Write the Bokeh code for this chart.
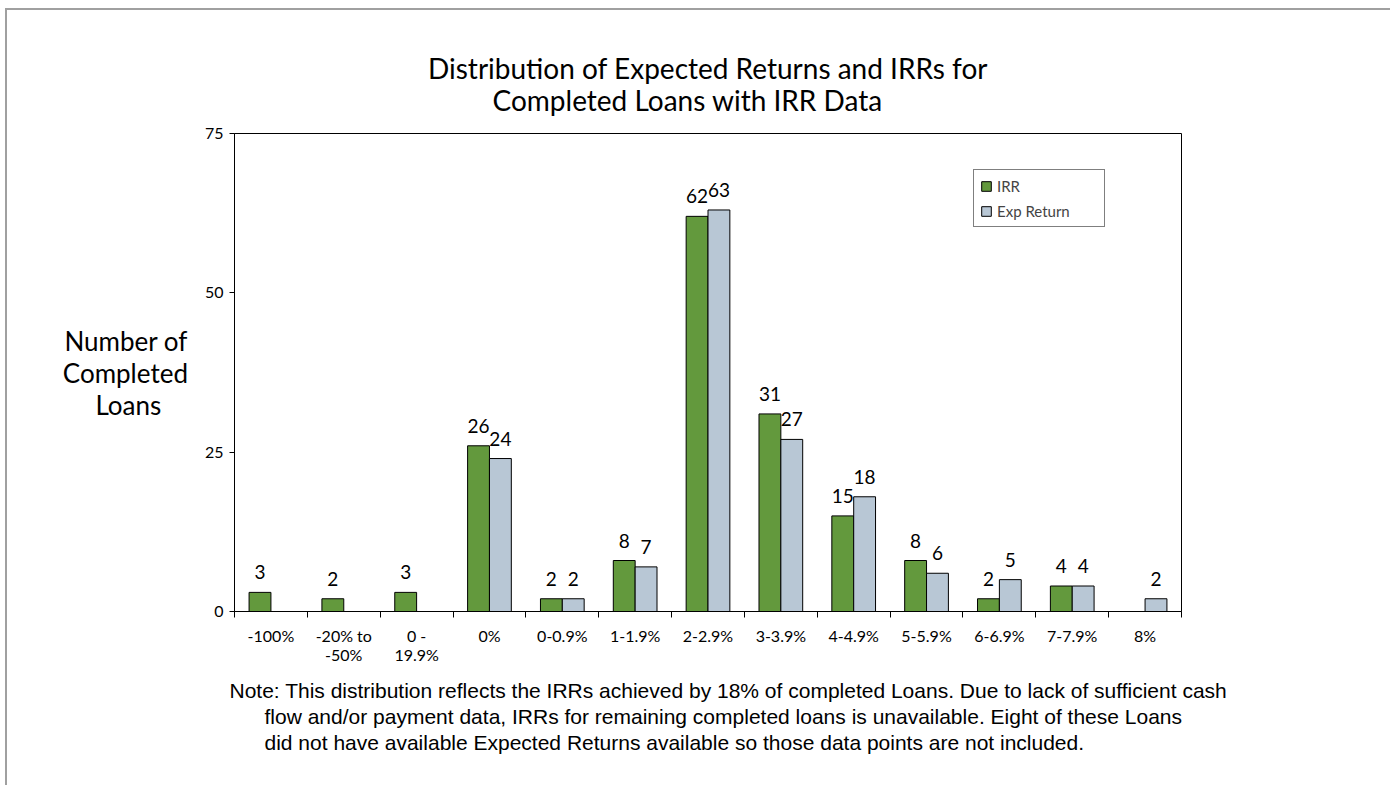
from bokeh.plotting import figure
from bokeh.models import ColumnDataSource, FixedTicker, Legend, LegendItem, Range1d, Title
from bokeh.core.properties import value
from bokeh.embed import file_html
from bokeh.resources import INLINE

# ---- data ----
categories = ["-100%", "-20% to\n-50%", "0 -\n19.9%", "0%", "0-0.9%", "1-1.9%",
              "2-2.9%", "3-3.9%", "4-4.9%", "5-5.9%", "6-6.9%", "7-7.9%", "8%"]
irr = [3, 2, 3, 26, 2, 8, 62, 31, 15, 8, 2, 4, None]
exp_return = [None, None, None, 24, 2, 7, 63, 27, 18, 6, 5, 4, 2]
y_ticks = [0, 25, 50, 75]
series_names = ["IRR", "Exp Return"]
title_lines = ["Distribution of Expected Returns and IRRs for", "Completed Loans with IRR Data"]
y_label_lines = ["Number of", "Completed", "Loans"]
note_lines = ["Note: This distribution reflects the IRRs achieved by 18% of completed Loans. Due to lack of sufficient cash",
              "flow and/or payment data, IRRs for remaining completed loans is unavailable. Eight of these Loans",
              "did not have available Expected Returns available so those data points are not included."]

NB = "\u00a0"
GREEN = "#63993d"
BLUE = "#b8c7d5"
FONT = "Lato"

W, H = 1385, 777
OX, OY = 7, 10                        # canvas origin on the page
FL, FT, FR, FB = 234 - OX, 133 - OY, 1181 - OX, 611 - OY  # frame box inside canvas

p = figure(width=W, height=H, output_backend="svg", toolbar_location=None, title=None,
           x_range=Range1d(0, len(categories)), y_range=Range1d(0, 75),
           min_border_left=FL, min_border_top=FT, min_border_right=W - FR,
           min_border_bottom=H - FB)
p.styles = {"border-top": "2px solid #a0a0a0", "border-left": "2px solid #a0a0a0",
            "margin-left": "5px", "margin-top": "8px"}

bw = 0.3


def make_source(vals, shift):
    xs, ys, ts = [], [], []
    for i, v in enumerate(vals):
        if v is None:
            continue
        xs.append(i + 0.5 + shift)
        ys.append(v)
        ts.append(str(v))
    return ColumnDataSource(dict(x=xs, top=ys, label=ts))


src_irr = make_source(irr, -bw / 2)
src_exp = make_source(exp_return, bw / 2)

r_irr = p.vbar(x="x", top="top", bottom=0, width=bw, source=src_irr,
               fill_color=GREEN, line_color="black", line_width=1)
r_exp = p.vbar(x="x", top="top", bottom=0, width=bw, source=src_exp,
               fill_color=BLUE, line_color="black", line_width=1)

for src in (src_irr, src_exp):
    p.text(x="x", y="top", text="label", source=src, text_align="center",
           text_baseline="middle", y_offset=-20, text_font=value(FONT),
           text_font_size="19px", text_color="black")

# axes
p.xgrid.visible = False
p.ygrid.visible = False
p.outline_line_color = "black"
p.outline_line_width = 1
p.outline_line_alpha = 1

xa = p.xaxis[0]
centers = [i + 0.5 for i in range(len(categories))]
xa.ticker = FixedTicker(ticks=centers, minor_ticks=list(range(len(categories) + 1)))
xa.major_label_overrides = {c: lab for c, lab in zip(centers, categories)}
xa.major_tick_out = 0
xa.major_tick_in = 0
xa.minor_tick_out = 6
xa.minor_tick_in = 0
xa.minor_tick_line_color = "black"
xa.axis_line_color = "black"
xa.major_label_standoff = 8
xa.major_label_text_font = FONT
xa.major_label_text_font_size = "16px"
xa.major_label_text_line_height = 1.05
xa.major_label_text_color = "black"

ya = p.yaxis[0]
ya.ticker = FixedTicker(ticks=y_ticks, minor_ticks=[])
ya.major_tick_out = 5
ya.major_tick_in = 0
ya.major_tick_line_color = "black"
ya.axis_line_color = "black"
ya.major_label_standoff = 6
ya.major_label_text_font = FONT
ya.major_label_text_font_size = "16px"
ya.major_label_text_color = "black"
ya.axis_label = "\n".join(y_label_lines[:2] + [y_label_lines[2] + NB * 4])
ya.axis_label_orientation = "horizontal"
ya.axis_label_standoff = 14
ya.axis_label_text_font = FONT
ya.axis_label_text_font_size = "26px"
ya.axis_label_text_line_height = 1.0
ya.axis_label_text_font_style = "normal"
ya.axis_label_text_color = "black"

# legend
legend = Legend(items=[LegendItem(label=series_names[0], renderers=[r_irr]),
                       LegendItem(label=series_names[1], renderers=[r_exp])],
                location=(739, 384), orientation="vertical",
                border_line_color="black", border_line_width=1, background_fill_color="white",
                background_fill_alpha=1, padding=6, spacing=6, margin=0,
                glyph_width=12, glyph_height=12, label_height=19, label_width=101,
                label_standoff=5, label_text_font=FONT, label_text_font_size="15px")
p.add_layout(legend, "center")

# two-line title
p.add_layout(Title(text=title_lines[0] + "\n" + NB * 9 + title_lines[1],
                   align="center", standoff=32, text_line_height=0.95,
                   text_font=FONT, text_font_size="28px", text_font_style="normal",
                   text_color="black"), "above")

# note below the x axis
note_text = "\n".join([note_lines[0]] + [NB * 6 + t for t in note_lines[1:]])
p.add_layout(Title(text=note_text, align="left", offset=-5, standoff=18,
                   text_line_height=1.15, text_font="Liberation Sans",
                   text_font_size="21px", text_font_style="normal",
                   text_color="black"), "below")

open("out.html", "w").write(file_html(p, INLINE))
